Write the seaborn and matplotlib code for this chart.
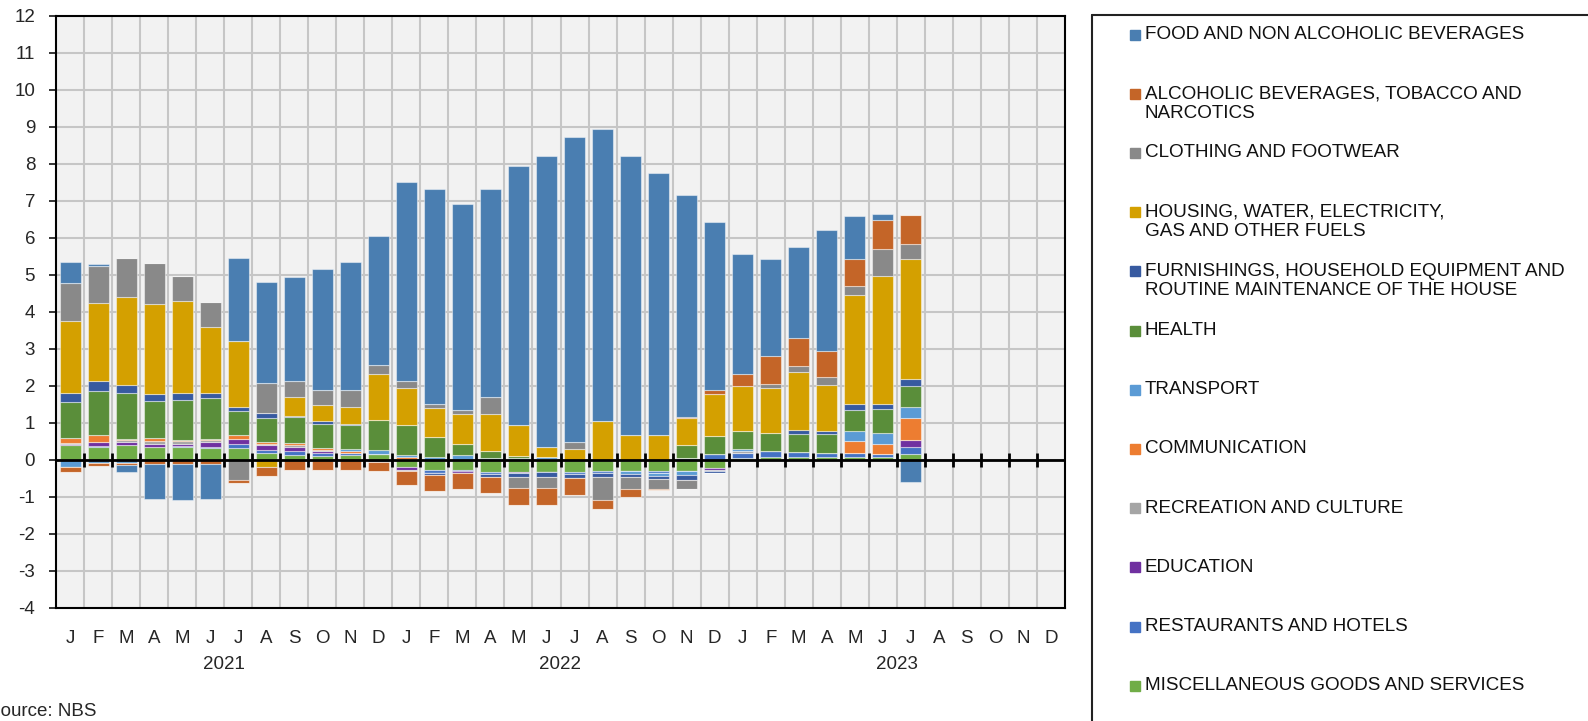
import numpy as np
import matplotlib
matplotlib.use('Agg')
import matplotlib.pyplot as plt
import seaborn as sns
from matplotlib.lines import Line2D
from matplotlib.patches import Rectangle
from matplotlib.transforms import blended_transform_factory

# months on the axis (Jan 2021 - Dec 2023), data until Jul 2023
months = ['J', 'F', 'M', 'A', 'M', 'J', 'J', 'A', 'S', 'O', 'N', 'D'] * 3
years = ['2021', '2022', '2023']

labels = [
    'FOOD AND NON ALCOHOLIC BEVERAGES',
    'ALCOHOLIC BEVERAGES, TOBACCO AND\nNARCOTICS',
    'CLOTHING AND FOOTWEAR',
    'HOUSING, WATER, ELECTRICITY,\nGAS AND OTHER FUELS',
    'FURNISHINGS, HOUSEHOLD EQUIPMENT AND\nROUTINE MAINTENANCE OF THE HOUSE',
    'HEALTH',
    'TRANSPORT',
    'COMMUNICATION',
    'RECREATION AND CULTURE',
    'EDUCATION',
    'RESTAURANTS AND HOTELS',
    'MISCELLANEOUS GOODS AND SERVICES',
]

food = [0.56, 0.05, -0.17, -0.94, -0.98, -0.95, 2.25, 2.71, 2.81, 3.27, 3.45, 3.49,
        5.40, 5.82, 5.55, 5.60, 6.99, 7.88, 8.23, 7.87, 7.54, 7.08, 5.99, 4.53,
        3.24, 2.63, 2.44, 3.27, 1.15, 0.16, -0.59]
alcohol = [-0.13, -0.08, -0.07, -0.11, -0.11, -0.11, -0.08, -0.25, -0.27, -0.27, -0.27, -0.25,
           -0.40, -0.41, -0.43, -0.43, -0.47, -0.47, -0.45, -0.24, -0.21, -0.04, 0.04, 0.13,
           0.34, 0.75, 0.75, 0.69, 0.75, 0.78, 0.77]
clothing = [1.04, 0.99, 1.05, 1.13, 0.69, 0.68, -0.53, 0.83, 0.42, 0.42, 0.47, 0.25,
            0.17, 0.10, 0.10, 0.48, -0.30, -0.30, 0.18, -0.61, -0.32, -0.27, -0.26, 0.00,
            0.00, 0.12, 0.17, 0.21, 0.24, 0.72, 0.41]
housing = [1.95, 2.12, 2.38, 2.41, 2.47, 1.78, 1.77, -0.19, 0.50, 0.44, 0.44, 1.22,
           1.00, 0.77, 0.83, 0.99, 0.83, 0.26, 0.30, 1.06, 0.68, 0.68, 0.71, 1.13,
           1.22, 1.22, 1.56, 1.26, 2.95, 3.47, 3.24]
furnishings = [0.24, 0.25, 0.21, 0.21, 0.21, 0.14, 0.13, 0.13, 0.05, 0.08, 0.05, 0.00,
               0.00, -0.08, 0.00, -0.08, -0.10, -0.14, -0.12, -0.12, -0.09, -0.08, -0.13, -0.05,
               0.00, 0.00, 0.12, 0.07, 0.16, 0.13, 0.18]
health = [0.98, 1.21, 1.24, 1.00, 1.07, 1.10, 0.65, 0.64, 0.69, 0.65, 0.63, 0.81,
          0.81, 0.55, 0.30, 0.20, 0.07, 0.00, 0.00, 0.00, 0.00, 0.00, 0.37, 0.48,
          0.47, 0.47, 0.49, 0.50, 0.56, 0.65, 0.59]
transport = [-0.19, -0.08, -0.08, 0.00, 0.00, 0.00, 0.00, 0.00, 0.00, 0.00, 0.07, 0.12,
             0.07, 0.08, 0.12, 0.04, 0.04, 0.05, 0.00, 0.00, -0.07, -0.07, -0.09, 0.00,
             0.05, 0.00, 0.00, 0.00, 0.27, 0.30, 0.29]
communication = [0.12, 0.17, 0.03, 0.08, 0.04, 0.02, 0.09, 0.05, 0.05, 0.03, 0.05, 0.00,
                 0.04, 0.00, 0.00, 0.00, 0.00, 0.00, 0.00, 0.00, 0.00, 0.00, 0.00, 0.00,
                 0.00, 0.00, 0.00, 0.00, 0.32, 0.26, 0.58]
recreation = [0.03, 0.00, 0.05, 0.07, 0.06, 0.06, 0.00, 0.04, 0.05, 0.04, 0.00, 0.00,
              -0.03, 0.00, 0.00, 0.00, 0.00, 0.00, 0.00, 0.00, 0.00, 0.00, 0.00, -0.03,
              0.06, 0.00, 0.00, 0.00, 0.00, 0.00, 0.00]
education = [0.03, 0.11, 0.09, 0.07, 0.07, 0.13, 0.13, 0.12, 0.13, 0.06, 0.00, 0.00,
             -0.06, 0.00, -0.05, 0.00, -0.04, 0.00, 0.00, 0.00, 0.00, 0.00, 0.00, -0.04,
             0.00, 0.00, 0.00, 0.00, 0.00, 0.00, 0.21]
restaurants = [0.00, 0.04, 0.00, 0.02, 0.03, 0.04, 0.13, 0.10, 0.10, 0.08, 0.05, -0.06,
               0.03, -0.08, -0.05, -0.06, 0.00, 0.03, -0.06, -0.04, 0.00, -0.05, 0.04, 0.16,
               0.14, 0.18, 0.14, 0.13, 0.12, 0.09, 0.18]
misc = [0.40, 0.34, 0.40, 0.34, 0.34, 0.31, 0.31, 0.18, 0.13, 0.10, 0.13, 0.16,
        -0.20, -0.26, -0.26, -0.32, -0.32, -0.32, -0.32, -0.31, -0.31, -0.31, -0.31, -0.22,
        0.05, 0.07, 0.07, 0.07, 0.07, 0.07, 0.16]

colors = ['#4A7EB1', '#C46528', '#898989', '#D4A000', '#375AA0', '#5A8E3A',
          '#5B9BD5', '#ED7D31', '#A5A5A5', '#7030A0', '#4472C4', '#70AD47']

series = [food, alcohol, clothing, housing, furnishings, health, transport,
          communication, recreation, education, restaurants, misc]

sns.set_style('white')
plt.rcParams['font.family'] = ['Liberation Sans', 'DejaVu Sans']

W, H = 1588, 721
fig = plt.figure(figsize=(W / 100, H / 100), dpi=100)
ax = fig.add_axes([56 / W, 1 - 608 / H, (1065 - 56) / W, (608 - 15.7) / H])
ax.set_facecolor('#F2F2F2')

x = np.arange(len(food))
pos_base = np.zeros(len(food))
neg_base = np.zeros(len(food))
# stack from the last legend entry upwards (misc at the bottom, food on top)
for vals, col in zip(series[::-1], colors[::-1]):
    v = np.array(vals)
    p = np.where(v > 0, v, 0)
    n = np.where(v < 0, v, 0)
    ax.bar(x, p, bottom=pos_base, width=0.75, color=col,
           edgecolor=(1, 1, 1, 0.45), linewidth=0.8, zorder=3)
    ax.bar(x, n, bottom=neg_base, width=0.75, color=col,
           edgecolor=(1, 1, 1, 0.45), linewidth=0.8, zorder=3)
    pos_base += p
    neg_base += n

n_slots = len(months)
ax.set_xlim(-0.5, n_slots - 0.5)
ax.set_ylim(-4, 12)
ax.set_yticks(range(-4, 13))
ax.set_yticklabels([str(v) for v in range(-4, 13)])

# grid
for yv in range(-3, 12):
    ax.axhline(yv, color='#C6C6C6', lw=1.5, zorder=1)
for b in np.arange(0.5, n_slots - 0.5, 1):
    ax.axvline(b, color='#C6C6C6', lw=1.5, zorder=1)

# zero line with crossing ticks
ax.axhline(0, color='black', lw=2, zorder=4)
ax.vlines(np.arange(0.5, n_slots - 0.5, 1), -0.19, 0.19, color='black', lw=2, zorder=4)

for s in ax.spines.values():
    s.set_color('black')
    s.set_linewidth(1.5)

ax.set_xticks(range(n_slots))
ax.set_xticklabels(months)
ax.tick_params(axis='x', length=0, pad=16, labelsize=13.5)
ax.tick_params(axis='y', length=5, width=1.3, direction='out', pad=10, labelsize=13.5, left=True)

tr = blended_transform_factory(ax.transData, ax.transAxes)
for i, yr in enumerate(years):
    ax.text(i * 12 + 5.5, -0.095, yr, transform=tr, ha='center', va='center', fontsize=13.5)

# source note, cut at the left edge as in the original
fig.text(-12 / W, 1 - 712 / H, 'Source: NBS', ha='left', va='center', fontsize=13.5)

# legend panel
fig.add_artist(Line2D([1092 / W, 1092 / W], [1 - 15 / H, 0], color='#222222', lw=1.5))
fig.add_artist(Line2D([1092 / W, 1], [1 - 15 / H, 1 - 15 / H], color='#222222', lw=1.5))
for i, (lab, col) in enumerate(zip(labels, colors)):
    yc = 34.5 + i * 59.2
    fig.add_artist(Rectangle((1130 / W, 1 - (yc + 5) / H), 10 / W, 10 / H,
                             transform=fig.transFigure, color=col))
    for k, line in enumerate(lab.split('\n')):
        fig.text(1145 / W, 1 - (yc + k * 19.5) / H, line, ha='left', va='center',
                 fontsize=13.6, color='#111111')

fig.savefig('out.png', dpi=100)
